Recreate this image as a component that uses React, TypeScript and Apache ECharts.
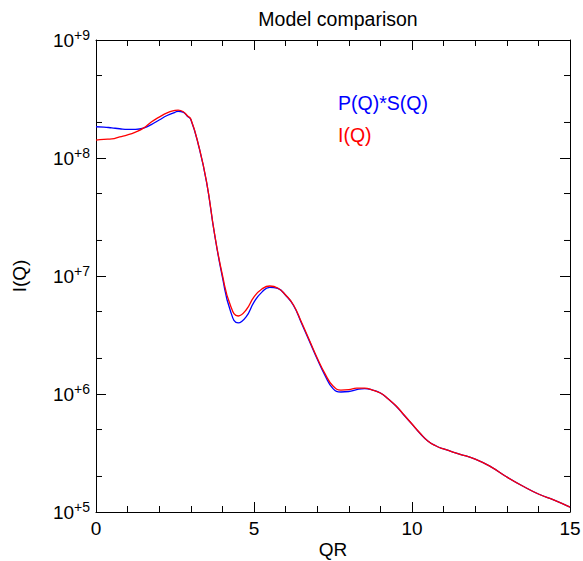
import React, { useEffect, useRef } from "react";
import * as echarts from "echarts";

const qr = [
  0, 0.25, 0.5, 0.75, 1, 1.25, 1.5, 1.75, 2, 2.25, 2.5, 2.6, 2.75, 2.9, 3, 3.25, 3.5, 3.75, 4, 4.25, 4.5, 4.75,
  5, 5.25, 5.5, 5.75, 6, 6.25, 6.5, 6.75, 7, 7.25, 7.5, 7.75, 8, 8.25, 8.5, 8.75, 9, 9.25, 9.5, 9.75, 10, 10.25, 10.5,
  10.75, 11, 11.5, 12, 12.5, 13, 13.5, 14, 14.5, 15,
];

const iq = [
  1.42e8, 1.44e8, 1.45e8, 1.51e8, 1.57e8, 1.66e8, 1.79e8, 2.02e8, 2.22e8, 2.41e8, 2.53e8, 2.55e8, 2.48e8, 2.27e8, 2.14e8,
  1.27e8, 6.27e7, 2.3e7, 1.02e7, 5.68e6, 4.58e6, 5.15e6, 6.64e6, 7.76e6, 8.23e6, 7.91e6, 6.9e6, 5.68e6,
  4.07e6, 2.87e6, 2.02e6, 1.48e6, 1.17e6, 1.08e6, 1.09e6, 1.12e6, 1.12e6, 1.08e6, 1.02e6, 9.08e5, 7.91e5, 6.64e5,
  5.57e5, 4.67e5, 4.0e5, 3.64e5, 3.42e5, 3.1e5, 2.81e5, 2.41e5, 1.98e5, 1.66e5, 1.42e5, 1.26e5, 1.1e5,
];

const pqsq = [
  1.84e8, 1.83e8, 1.8e8, 1.77e8, 1.75e8, 1.75e8, 1.79e8, 1.92e8, 2.1e8, 2.29e8, 2.44e8, 2.49e8, 2.45e8, 2.25e8, 2.12e8,
  1.26e8, 6.2e7, 2.27e7, 9.8e6, 5.1e6, 4.0e6, 4.5e6, 6.0e6, 7.3e6, 8.0e6, 7.84e6, 6.86e6, 5.62e6,
  4.0e6, 2.82e6, 1.98e6, 1.43e6, 1.11e6, 1.04e6, 1.05e6, 1.09e6, 1.11e6, 1.08e6, 1.02e6, 9.05e5, 7.88e5, 6.6e5,
  5.55e5, 4.65e5, 4.0e5, 3.64e5, 3.42e5, 3.1e5, 2.81e5, 2.41e5, 1.98e5, 1.66e5, 1.42e5, 1.26e5, 1.1e5,
];

const yMinorTicks = [2e5, 5e5, 2e6, 5e6, 2e7, 5e7, 2e8, 5e8];

const FONT = "'Liberation Sans', Arial, Helvetica, sans-serif";

export default function App() {
  const ref = useRef<HTMLDivElement>(null);
  useEffect(() => {
    if (!ref.current) return;
    const chart = echarts.init(ref.current, null, { renderer: "svg" });
    const labelFmt = (v: number) => `{b|10}{s|+${Math.round(Math.log10(v))}}`;
    const rich = {
      b: { fontSize: 19, lineHeight: 24, fontFamily: FONT, color: "#000" },
      s: { fontSize: 14, lineHeight: 15, fontFamily: FONT, color: "#000", verticalAlign: "top" },
    };
    const xCommon = {
      type: "value",
      min: 0,
      max: 15,
      interval: 5,
      axisLine: { show: true, onZero: false, lineStyle: { color: "#000", width: 1 } },
      axisTick: { show: true, inside: true, length: 10, lineStyle: { color: "#000" } },
      minorTick: { show: true, splitNumber: 5, length: 6, lineStyle: { color: "#000" } },
      splitLine: { show: false },
      minorSplitLine: { show: false },
    };
    const yCommon = {
      type: "log",
      logBase: 10,
      min: 1e5,
      max: 1e9,
      axisLine: { show: true, onZero: false, lineStyle: { color: "#000", width: 1 } },
      axisTick: { show: true, inside: true, length: 10, lineStyle: { color: "#000" } },
      splitLine: { show: false },
    };
    chart.setOption({
      animation: false,
      backgroundColor: "#fff",
      title: {
        text: "Model comparison",
        left: 333,
        top: 4,
        textAlign: "center",
        textStyle: { fontFamily: FONT, fontSize: 19.5, fontWeight: "normal", color: "#000" },
      },
      legend: {
        orient: "vertical",
        left: 327,
        top: 88,
        itemWidth: 0,
        itemHeight: 0,
        itemGap: 12,
        selectedMode: false,
        data: [
          { name: "P(Q)*S(Q)", textStyle: { color: "#0000ff" } },
          { name: "I(Q)", textStyle: { color: "#ff0000" } },
        ],
        textStyle: { fontFamily: FONT, fontSize: 19.5, lineHeight: 20 },
      },
      grid: { left: 96, right: 13, top: 40, bottom: 49, containLabel: false, outerBoundsMode: "none" },
      xAxis: [
        {
          ...xCommon,
          position: "bottom",
          name: "QR",
          nameLocation: "middle",
          nameGap: 28,
          nameMoveOverlap: false,
          nameTextStyle: { fontFamily: FONT, fontSize: 19, lineHeight: 19, color: "#000" },
          axisLabel: { show: true, margin: 7, fontFamily: FONT, fontSize: 19, color: "#000" },
        },
        { ...xCommon, position: "top", axisLabel: { show: false } },
      ],
      yAxis: [
        {
          ...yCommon,
          position: "left",
          name: "I(Q)",
          nameLocation: "middle",
          nameGap: 67,
          nameMoveOverlap: false,
          nameTextStyle: { fontFamily: FONT, fontSize: 19, color: "#000" },
          axisLabel: { show: true, margin: 6, formatter: labelFmt, rich },
        },
        { ...yCommon, position: "right", axisLabel: { show: false } },
      ],
      series: [
        {
          name: "P(Q)*S(Q)",
          type: "line",
          data: qr.map((x, i) => [x, pqsq[i]]),
          smooth: 0.5,
          showSymbol: false,
          lineStyle: { color: "#0000ff", width: 1.3 },
          itemStyle: { color: "#0000ff" },
          z: 3,
        },
        {
          name: "I(Q)",
          type: "line",
          data: qr.map((x, i) => [x, iq[i]]),
          smooth: 0.5,
          showSymbol: false,
          lineStyle: { color: "#ff0000", width: 1.3 },
          itemStyle: { color: "#ff0000" },
          z: 4,
        },
        {
          name: "minorTicks",
          type: "custom",
          silent: true,
          data: yMinorTicks.map((v) => [0, v]),
          encode: { x: 0, y: 1 },
          renderItem: (params: any, api: any) => {
            const v = api.value(1);
            const pl = api.coord([0, v]);
            const pr = api.coord([15, v]);
            return {
              type: "group",
              children: [
                { type: "line", shape: { x1: pl[0], y1: pl[1], x2: pl[0] + 6, y2: pl[1] }, style: { stroke: "#000", lineWidth: 1 } },
                { type: "line", shape: { x1: pr[0] - 6, y1: pr[1], x2: pr[0], y2: pr[1] }, style: { stroke: "#000", lineWidth: 1 } },
              ],
            };
          },
          z: 5,
        },
      ],
    });
    return () => chart.dispose();
  }, []);
  return <div ref={ref} style={{ position: "fixed", left: 0, top: 0, width: 583, height: 561 }} />;
}
